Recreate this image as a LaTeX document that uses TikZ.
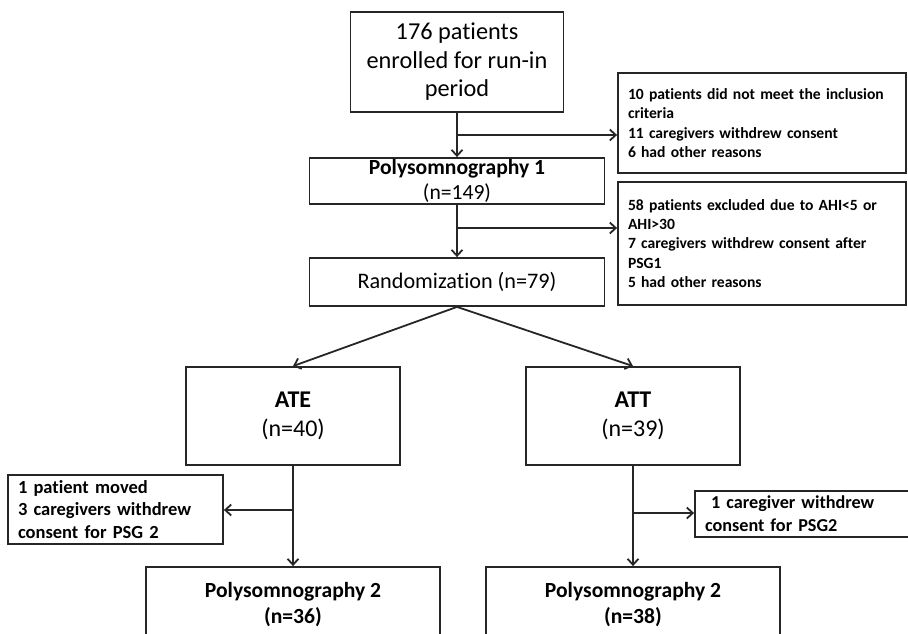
\documentclass[tikz,border=0pt]{standalone}
\usepackage{fontspec}
\setmainfont{Carlito}[Ligatures={NoCommon}]
\usetikzlibrary{arrows.meta}
\tikzset{
  box/.style={draw=black!85, line width=1.8pt, rectangle, inner sep=0pt, align=center},
  exbox/.style={draw=black!85, line width=1.8pt, rectangle, inner xsep=10pt, inner ysep=0pt, align=left,
     font=\fontsize{15.6}{19.4}\selectfont\bfseries},
  arr/.style={draw=black!85, line width=1.8pt, -{Straight Barb[length=6pt,width=11pt,line width=1.8pt]}},
  ln/.style={draw=black!85, line width=1.8pt}
}
\begin{document}
\begin{tikzpicture}[x=1pt,y=-1pt]
\useasboundingbox (0,0) rectangle (908,633);
\clip (0,0) rectangle (908,633);
% main column
\node[box, minimum width=213pt, minimum height=100pt, font=\fontsize{24.3}{28.5}\selectfont]
  (n1) at (457,62) {176 patients\\enrolled for run-in\\period};
\node[box, minimum width=295pt, minimum height=46pt, font=\fontsize{21.6}{25}\selectfont]
  (poly1) at (457,181) {\textbf{Polysomnography 1}\\(n=149)};
\node[box, minimum width=295pt, minimum height=48pt, font=\fontsize{22.2}{24}\selectfont]
  (rand) at (457,282) {Randomization (n=79)};
% exclusion boxes
\node[exbox, text width=268pt, minimum height=100pt] (ex1) at (762,123)
  {10 patients did not meet the inclusion\\criteria\\11 caregivers withdrew consent\\6 had other reasons};
\node[exbox, text width=268pt, minimum height=123pt] (ex2) at (762,243.5)
  {58 patients excluded due to AHI<5 or\\AHI>30\\7 caregivers withdrew consent after\\PSG1\\5 had other reasons};
% arms
\node[box, minimum width=214pt, minimum height=98pt, font=\fontsize{24}{29.5}\selectfont]
  (ate) at (293,416) {\textbf{ATE}\\(n=40)};
\node[box, minimum width=214pt, minimum height=98pt, font=\fontsize{24}{29.5}\selectfont]
  (att) at (633,416) {\textbf{ATT}\\(n=39)};
\node[exbox, inner xsep=10pt, text width=195pt, minimum height=69pt, font=\fontsize{18.5}{22.5}\selectfont\bfseries]
  (ex3) at (115.5,509.5) {1 patient moved\\3 caregivers withdrew\\consent for PSG 2};
\node[exbox, inner xsep=10pt, text width=200pt, minimum height=46pt, font=\fontsize{18.2}{23}\selectfont\bfseries]
  (ex4) at (805,514) {\ 1 caregiver withdrew\\consent for PSG2};
\node[box, minimum width=294pt, minimum height=76pt, font=\fontsize{21.6}{26}\selectfont]
  (p2a) at (293,605) {\textbf{Polysomnography 2}\\\textbf{(n=36)}};
\node[box, minimum width=294pt, minimum height=76pt, font=\fontsize{21.6}{26}\selectfont]
  (p2b) at (633,605) {\textbf{Polysomnography 2}\\\textbf{(n=38)}};
% connectors
\coordinate (b1) at (457,135);
\coordinate (b2) at (457,228);
\coordinate (b3) at (293,510);
\coordinate (b4) at (633,513);
\draw[arr] (n1.south) -- (poly1.north);
\draw[arr] (b1) -- (ex1.west |- b1);
\draw[arr] (poly1.south) -- (rand.north);
\draw[arr] (b2) -- (ex2.west |- b2);
\draw[arr] (rand.south) -- (ate.north);
\draw[arr] (rand.south) -- (att.north);
\draw[arr] (ate.south) -- (p2a.north);
\draw[arr] (b3) -- (ex3.east |- b3);
\draw[arr] (att.south) -- (p2b.north);
\draw[arr] (b4) -- (ex4.west |- b4);
\end{tikzpicture}
\end{document}
